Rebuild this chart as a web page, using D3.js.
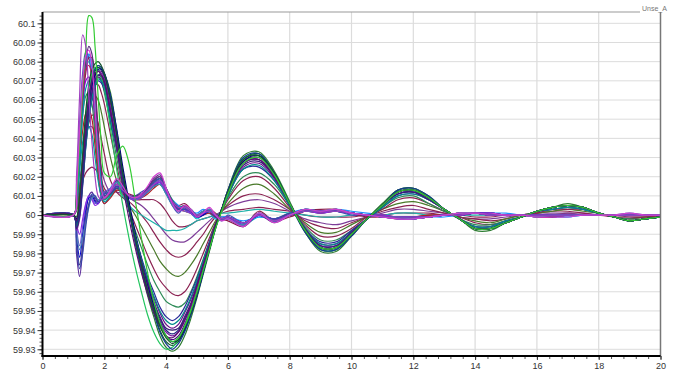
<!DOCTYPE html>
<html><head><meta charset="utf-8">
<script src="https://cdn.jsdelivr.net/npm/d3@7"></script>
<style>body{margin:0;background:#fff}svg{display:block}text{font-family:"Liberation Sans",Arial,sans-serif}</style>
</head><body><svg id="c" width="674" height="374"></svg>
<script>
// Frequency traces: values are deviations from 60 Hz in mHz
const baseFreq = 60;
const time = [0,1.0,1.1,1.2,1.3,1.4,1.5,1.6,1.7,1.8,1.9,2.0,
  2.2,2.4,2.6,2.8,3.0,3.2,3.4,3.6,3.8,4.0,4.2,4.4,4.6,4.8,5.0,5.2,5.4,5.6,5.8,6.0,
  6.5,7.0,7.5,8.0,8.5,9.0,9.5,10.0,10.5,11.0,11.5,12.0,12.5,13.0,13.5,14.0,14.5,15.0,15.5,16.0,16.5,17.0,17.5,18.0,18.5,19.0,19.5,20.0];
const xTickValues = [0,2,4,6,8,10,12,14,16,18,20];
const xTickLabels = ["0","2","4","6","8","10","12","14","16","18","20"];
const yTickValues = [59.93,59.94,59.95,59.96,59.97,59.98,59.99,60,60.01,60.02,60.03,60.04,60.05,60.06,60.07,60.08,60.09,60.1];
const yTickLabels = ["59.93","59.94","59.95","59.96","59.97","59.98","59.99","60","60.01","60.02","60.03","60.04","60.05","60.06","60.07","60.08","60.09","60.1"];

// intermediate traces
const devI1 = [0,0,4,12,18,22,24,25,24,22,18,14, 10,13,12,9,8,8,8,8,6,2,-3,-6,-6,-5,-3,-2,-1,0,1,2, 3,4,3,2,0,-1,-1,-1,0,0,1,1,1,0,0,-1,-1,0,0,0,0,1,0,0,0,0,0,0];
const devI2 = [0,0,4,16,30,40,46,46,42,34,25,18, 12,12,11,9,7,5,2,-2,-6,-10,-13,-14,-14,-12,-9,-6,-3,0,2,4, 7,8,6,2,-2,-4,-5,-3,-1,1,3,3,2,1,-1,-2,-2,-1,0,1,1,1,1,0,0,-1,-1,0];
const devI3 = [0,0,3,14,28,40,48,52,52,48,40,32, 18,12,9,7,4,0,-4,-9,-14,-18,-21,-22,-21,-18,-14,-10,-5,-1,2,5, 10,11,8,3,-3,-6,-7,-4,-1,2,4,5,3,1,-1,-2,-3,-2,0,1,2,2,1,0,-1,-1,-1,0];
const devI4 = [0,0,2,12,26,40,52,60,62,60,54,46, 30,18,10,5,0,-6,-12,-18,-24,-28,-31,-32,-30,-26,-21,-15,-9,-3,2,6, 14,16,11,3,-4,-9,-9,-5,-1,3,6,7,5,2,-1,-3,-4,-2,0,1,2,3,2,1,-1,-2,-1,-1];
const devI5 = [0,0,-2,8,22,38,52,62,68,68,64,58, 42,26,12,3,-5,-13,-21,-28,-34,-38,-41,-42,-40,-35,-28,-20,-12,-4,2,8, 18,20,14,4,-5,-11,-11,-7,-1,3,8,9,6,2,-1,-4,-5,-3,-1,1,3,3,3,1,-1,-2,-1,-1];
const devI6 = [0,0,-3,6,20,38,54,64,70,72,70,64, 48,30,14,2,-8,-17,-26,-34,-40,-45,-47,-48,-46,-40,-32,-23,-14,-5,2,9, 20,22,16,5,-6,-13,-13,-8,-2,4,9,10,6,2,-2,-5,-5,-3,-1,2,3,4,3,1,-1,-2,-2,-1];
const devI7 = [0,0,10,38,62,76,80,72,50,28,14,9, 12,14,10,5,2,0,-2,-4,-6,-8,-8,-8,-7,-5,-3,-2,-1,0,1,1, 2,3,2,1,0,-1,-1,0,0,0,1,1,0,0,0,0,0,0,0,0,0,0,0,0,0,0,0,0];

// early-peak / small-oscillation traces
const devA1 = [0,0,14,44,70,83,86,78,56,30,14,9, 13,19,15,10,9,11,15,20,22,14,6,2,5,3,-1,1,4,0,-3,-2, -6,1,-4,0,3,2,3,1,0,-1,-2,-2,-1,0,1,1,1,0,0,-1,-1,-1,0,0,0,1,0,0];
const devA2 = [0,0,10,36,62,78,84,80,62,38,18,8, 11,16,14,10,8,10,13,17,19,13,7,4,3,1,-2,0,1,-2,-1,-1, -5,-1,-2,1,2,1,2,1,0,-1,-1,-2,-1,0,0,1,1,0,0,0,-1,-1,0,0,0,0,0,0];
const devA3 = [0,0,16,48,74,85,82,70,48,24,10,6, 10,14,12,9,10,12,14,18,18,12,5,1,4,2,0,2,2,-1,-3,0, -4,0,-3,0,3,2,2,0,0,0,-1,-1,-1,0,1,1,0,0,0,0,-1,0,0,0,0,1,0,0];
const devA4 = [0,0,8,32,58,74,82,82,68,45,24,12, 12,15,13,11,10,11,13,16,17,12,7,5,6,3,-1,0,3,1,-2,-3, -6,2,-3,-1,2,3,3,1,-1,-1,-2,-1,0,0,1,1,0,0,0,-1,-1,0,0,0,0,0,0,0];
const devA5 = [0,0,12,40,66,80,84,76,55,30,14,8, 14,18,14,9,8,9,12,15,17,13,8,5,3,2,1,3,1,-1,-1,-1, -3,-1,-2,1,3,1,3,2,1,0,-2,-2,-1,-1,0,1,1,1,0,0,0,-1,0,0,0,0,0,0];
const devA6 = [0,0,9,34,58,70,72,66,48,28,14,9, 12,17,14,10,9,10,12,16,18,13,6,3,4,2,-1,1,2,0,-2,-1, -5,0,-3,0,2,2,2,1,0,-1,-1,-2,-1,0,0,1,1,0,0,0,-1,0,0,0,0,0,0,0];
const devA7 = [0,0,8,30,52,62,64,58,42,24,12,8, 11,15,13,10,9,10,13,17,19,14,8,4,4,2,0,1,2,0,-2,-1, -4,0,-2,0,2,2,2,1,0,-1,-1,-1,-1,0,0,1,0,0,0,0,0,0,0,0,0,0,0,0];
const devA8 = [0,0,6,26,44,53,55,50,36,20,10,6, 9,13,12,9,8,9,11,14,16,12,6,3,2,1,-1,0,1,-1,-2,-1, -4,0,-2,0,2,1,2,1,0,0,-1,-1,0,0,0,1,0,0,0,0,0,0,0,0,0,0,0,0];
const devA9 = [0,0,5,22,38,45,46,42,30,18,10,7, 10,14,13,10,9,10,12,15,16,11,6,4,5,2,0,1,3,0,-2,-2, -5,1,-3,0,3,2,2,1,0,-1,-1,-1,-1,0,1,1,0,0,0,0,-1,0,0,0,0,0,0,0];
const devA10 = [0,0,6,30,60,80,88,84,66,40,20,10, 13,18,14,9,8,10,14,19,21,14,7,3,4,3,0,2,3,0,-2,-2, -6,0,-4,0,3,2,3,1,0,-1,-2,-2,-1,0,1,1,1,0,0,-1,-1,0,0,0,0,0,0,0];
const devA11 = [0,0,11,38,63,76,78,72,52,30,15,9, 12,16,13,9,9,11,14,18,20,13,6,3,5,2,-1,1,3,-1,-2,-2, -5,1,-3,0,2,2,3,1,0,-1,-1,-2,-1,0,1,1,0,0,0,-1,-1,0,0,0,0,0,0,0];
const devA12 = [0,0,7,28,52,66,70,68,54,34,18,10, 13,17,14,10,8,10,13,16,18,12,6,4,4,2,0,2,2,0,-2,-2, -4,0,-3,0,3,2,2,1,0,-1,-1,-1,-1,0,0,1,1,0,0,0,0,0,0,0,0,0,0,0];

// traces that dip first
const devC1 = [0,0,-20,-32,-18,0,10,12,8,6,9,12, 13,16,13,10,9,10,12,15,17,12,6,3,3,1,-1,1,2,-1,-2,-1, -4,0,-2,0,2,2,2,1,0,-1,-1,-1,-1,0,0,1,0,0,0,0,0,0,0,0,0,0,0,0];
const devC2 = [0,0,-12,-22,-10,3,9,10,7,6,9,11, 12,15,13,10,9,11,13,16,18,13,7,4,4,2,-1,0,2,0,-2,-2, -5,0,-3,0,2,2,2,1,0,-1,-1,-2,-1,0,0,1,1,0,0,0,0,0,0,0,0,0,0,0];
const devC3 = [0,0,-8,-16,-6,5,10,9,6,7,10,12, 14,17,13,9,8,9,12,16,18,13,7,3,2,1,-1,1,3,0,-1,-2, -5,1,-3,0,3,2,3,1,0,-1,-2,-2,-1,0,1,1,0,0,0,-1,0,0,0,0,0,0,0,0];
const devC4 = [0,0,-14,-26,-16,-2,6,10,9,7,8,10, 11,14,12,10,10,11,14,18,20,14,7,3,4,2,0,2,2,-1,-2,-1, -4,0,-2,1,2,2,2,1,0,-1,-1,-1,-1,0,0,1,0,0,0,0,-1,0,0,0,0,0,0,0];
const devC5 = [0,0,-5,-10,-2,6,10,8,5,6,9,11, 12,15,12,9,8,10,13,16,17,12,6,2,3,1,-1,1,2,0,-2,-1, -5,0,-2,0,2,1,2,1,0,0,-1,-1,-1,0,0,1,0,0,0,0,0,0,0,0,0,0,0,0];
const devC6 = [0,0,-10,-18,-12,-4,4,9,10,8,9,11, 13,17,14,10,9,10,12,15,16,11,5,2,4,3,0,2,3,0,-2,-2, -5,1,-3,0,2,2,3,1,0,-1,-1,-2,-1,0,1,1,0,0,0,-1,0,0,0,0,0,0,0,0];
const devC7 = [0,0,-16,-28,-20,-6,5,11,10,7,8,11, 12,15,12,10,9,10,13,17,19,13,6,3,3,2,-1,1,2,0,-2,-1, -4,0,-2,0,2,2,2,1,0,-1,-1,-1,-1,0,0,1,0,0,0,0,0,0,0,0,0,0,0,0];

// large-oscillation traces
const devB1 = [0,0,-3,3,18,36,50,60,67,70,69,65, 49,34,17,3,-11,-22,-32,-40,-48,-53,-55,-53,-48,-41,-33,-24,-14,-5,3,10, 24,25,18,5,-7,-14,-14,-8,-2,4,10,11,8,3,-2,-6,-6,-3,-1,2,3,4,3,1,-1,-3,-2,-1];
const devB2 = [0,0,-5,2,19,38,53,63,69,72,71,68, 52,36,18,3,-12,-23,-34,-43,-51,-57,-59,-57,-51,-44,-35,-25,-15,-5,3,11, 25,27,19,5,-7,-15,-15,-9,-2,5,11,12,8,3,-2,-6,-6,-4,-1,2,4,5,4,1,-1,-3,-2,-1];
const devB3 = [0,0,-4,5,23,43,57,66,71,73,72,69, 55,38,19,3,-12,-25,-36,-46,-54,-60,-62,-60,-54,-47,-37,-27,-16,-6,3,11, 27,29,20,6,-8,-16,-16,-10,-2,5,11,12,9,3,-2,-7,-7,-4,-1,2,4,5,4,1,-1,-3,-2,-1];
const devB4 = [0,0,-4,4,22,42,57,67,73,75,75,72, 58,40,20,3,-13,-26,-38,-48,-57,-63,-65,-63,-57,-49,-39,-28,-17,-6,3,12, 28,30,21,6,-8,-17,-17,-10,-2,5,12,13,9,3,-2,-7,-7,-4,-1,2,4,5,4,1,-1,-3,-2,-1];
const devB5 = [0,0,-6,1,18,40,57,69,75,77,76,73, 61,42,21,3,-14,-27,-40,-50,-60,-66,-68,-66,-60,-51,-41,-29,-18,-6,3,13, 29,32,22,6,-8,-18,-18,-10,-2,5,13,14,9,3,-2,-7,-7,-4,-1,2,4,5,4,1,-1,-3,-2,-1];
const devB6 = [0,0,-3,6,26,47,62,71,76,78,77,74, 64,44,22,3,-14,-29,-42,-53,-63,-69,-71,-69,-63,-54,-43,-31,-19,-7,3,13, 31,33,23,7,-9,-19,-19,-11,-2,6,13,14,10,3,-2,-8,-8,-4,-1,2,4,6,4,1,-1,-3,-2,-1];
const devB7 = [0,0,-2,8,30,52,66,74,77,76,72,66, 45,24,5,-12,-27,-40,-52,-61,-67,-70,-69,-65,-58,-49,-39,-28,-17,-6,3,12, 29,31,22,6,-8,-18,-18,-10,-2,5,12,13,9,3,-2,-7,-7,-4,-1,2,4,5,4,1,-1,-3,-2,-1];
const devB8 = [0,0,-8,-2,15,36,53,65,72,75,74,71, 57,39,20,3,-13,-25,-37,-47,-55,-61,-63,-61,-55,-48,-38,-27,-16,-6,3,12, 27,29,20,6,-8,-16,-16,-10,-2,5,12,13,9,3,-2,-7,-7,-4,-1,2,4,5,4,1,-1,-3,-2,-1];
const devB9 = [0,0,-2,7,26,46,60,68,73,76,76,74, 62,45,25,7,-9,-23,-36,-47,-56,-63,-66,-65,-60,-52,-42,-30,-18,-7,3,12, 28,31,21,6,-8,-17,-17,-10,-2,5,12,13,9,3,-2,-7,-7,-4,-1,2,4,5,4,1,-1,-3,-2,-1];
const devB10 = [0,0,-6,0,16,35,50,61,68,71,70,67, 50,35,17,3,-11,-23,-33,-42,-50,-55,-57,-55,-50,-43,-34,-24,-15,-5,3,10, 24,26,18,5,-7,-15,-15,-9,-2,4,10,11,8,3,-2,-6,-6,-3,-1,2,3,4,3,1,-1,-3,-2,-1];
const devB11 = [0,0,-7,-1,17,38,54,64,70,73,73,70, 54,37,19,3,-12,-24,-35,-45,-53,-59,-60,-59,-53,-46,-36,-26,-16,-6,3,11, 26,28,20,6,-7,-16,-16,-9,-2,5,11,12,8,3,-2,-7,-7,-4,-1,2,4,5,4,1,-1,-3,-2,-1];
const devB12 = [0,0,-4,3,21,43,59,70,76,78,77,74, 62,43,21,3,-14,-28,-41,-51,-61,-67,-70,-67,-61,-52,-42,-30,-18,-6,3,13, 30,32,22,6,-9,-18,-18,-11,-2,5,13,14,10,3,-2,-7,-7,-4,-1,2,4,5,4,1,-1,-3,-2,-1];
const devB13 = [0,0,-3,6,25,46,61,70,74,75,73,69, 54,35,15,-2,-17,-30,-41,-51,-58,-63,-64,-61,-55,-47,-37,-26,-16,-5,3,12, 27,29,20,6,-8,-17,-17,-10,-2,5,12,13,9,3,-2,-7,-7,-4,-1,2,4,5,4,1,-1,-3,-2,-1];
const devB14 = [0,0,-1,10,32,54,68,76,79,80,78,74, 60,42,22,4,-12,-26,-39,-49,-58,-64,-67,-65,-59,-51,-41,-29,-18,-6,3,12, 29,31,22,6,-8,-17,-17,-10,-2,5,12,13,9,3,-2,-7,-7,-4,-1,2,4,5,4,1,-1,-3,-2,-1];

// individual outliers
const devG1 = [0,0,10,38,66,86,104,103,88,62,38,22, 20,31,36,27,8,-12,-30,-45,-56,-63,-66,-64,-58,-50,-40,-29,-18,-7,2,11, 27,30,21,6,-8,-17,-17,-10,-2,5,12,13,9,3,-2,-7,-7,-4,-1,2,4,5,4,1,-1,-3,-2,-1];
const devP1 = [0,0,20,62,94,88,62,38,20,10,8,9, 12,16,13,10,9,10,13,16,18,13,7,4,4,2,0,1,2,0,-2,-1, -4,0,-3,0,2,2,2,1,0,-1,-1,-1,-1,0,0,1,0,0,0,0,0,0,0,0,0,0,0,0];

const traces = [devI1,devI2,devI3,devI4,devI5,devI6,devI7,
  devA2,devA3,devA4,devA5,devA6,devA7,devA8,devA9,devA10,devA11,devA12,
  devC1,devC2,devC3,devC4,devC5,devC6,devC7,
  devB1,devB2,devB3,devB4,devB5,devB6,devB7,devB8,devB9,devB10,devB11,devB12,devB13,devB14,
  devG1,devP1,devA1];
const colors = ["#8b2252","#7d3c98","#8b2252","#4a7a2a","#8b2252","#2e8b57","#20b2aa",
  "#00bcd4","#3f51b5","#8b1a4a","#1e90ff","#9400d3","#2e8b57","#b22222","#00a0a0","#5a2d82","#c2185b","#0097a7",
  "#5a2a9a","#0000cd","#6a5acd","#483d8b","#8a2be2","#4682b4","#3949ab",
  "#2b2b9a","#6a0d8a","#1a237e","#4b0082","#0d5c2e","#2e7d32","#22c55e","#7b1fa2","#00007a","#008b8b","#3a1f7a","#123b8f","#5b0f6e","#14532d",
  "#33cc33","#a040c0","#d040d0"];

const svg = d3.select("#c");
const L = 42.5, R = 660.5, T = 12, B = 356;
const x = d3.scaleLinear().domain([0,20]).range([L,R]);
const y = d3.scaleLinear().domain([59.9265,60.1059]).range([B,T]);

// grid
const g = svg.append("g");
g.selectAll(".hg").data(yTickValues).join("line")
  .attr("x1",L).attr("x2",R).attr("y1",d=>y(d)).attr("y2",d=>y(d))
  .attr("stroke","#dcdcdc").attr("stroke-width",1);
g.selectAll(".vg").data(xTickValues.filter(v=>v>0&&v<20)).join("line")
  .attr("x1",d=>x(d)).attr("x2",d=>x(d)).attr("y1",T).attr("y2",B)
  .attr("stroke","#dcdcdc").attr("stroke-width",1.2);

// traces
svg.append("defs").append("clipPath").attr("id","clip").append("rect")
  .attr("x",L).attr("y",T).attr("width",R-L).attr("height",B-T);
const line = d3.line().x((d,i)=>x(time[i])).y(d=>y(baseFreq + d/1000)).curve(d3.curveCatmullRom.alpha(0.5));
svg.append("g").attr("clip-path","url(#clip)").selectAll("path").data(traces).join("path")
  .attr("d",line).attr("fill","none").attr("stroke",(d,i)=>colors[i]).attr("stroke-width",1.2);

// frame
svg.append("line").attr("x1",L).attr("x2",640).attr("y1",T).attr("y2",T).attr("stroke","#999");
svg.append("line").attr("x1",R).attr("x2",R).attr("y1",T).attr("y2",B).attr("stroke","#777").attr("stroke-width",1.5);

// axes
const yMinor = d3.range(59.928,60.1059,0.002);
svg.append("g").attr("transform",`translate(${L},0)`)
  .call(d3.axisLeft(y).tickValues(yMinor).tickSize(3).tickFormat(""))
  .call(a=>a.select(".domain").remove())
  .call(a=>a.selectAll("line").attr("stroke","#555"));
svg.append("g").attr("transform",`translate(${L},0)`)
  .call(d3.axisLeft(y).tickValues(yTickValues).tickSize(5).tickPadding(2).tickFormat((d,i)=>yTickLabels[i]))
  .call(a=>a.select(".domain").remove())
  .call(a=>a.selectAll("line").attr("stroke","#333"))
  .call(a=>a.selectAll("text").attr("font-size","9px").attr("fill","#333").attr("font-family","Liberation Sans, Arial, sans-serif"));
const xMinor = d3.range(0,20.01,0.4);
svg.append("g").attr("transform",`translate(0,${B})`)
  .call(d3.axisBottom(x).tickValues(xMinor).tickSize(3).tickFormat(""))
  .call(a=>a.select(".domain").remove())
  .call(a=>a.selectAll("line").attr("stroke","#555"));
svg.append("g").attr("transform",`translate(0,${B})`)
  .call(d3.axisBottom(x).tickValues(xTickValues).tickSize(4).tickPadding(3).tickFormat((d,i)=>xTickLabels[i]))
  .call(a=>a.select(".domain").remove())
  .call(a=>a.selectAll("line").attr("stroke","#333"))
  .call(a=>a.selectAll("text").attr("font-size","9px").attr("fill","#333").attr("font-family","Liberation Sans, Arial, sans-serif"));
svg.append("line").attr("x1",L).attr("x2",L).attr("y1",T).attr("y2",B+1).attr("stroke","#000").attr("stroke-width",2);
svg.append("line").attr("x1",L-1).attr("x2",R).attr("y1",B).attr("y2",B).attr("stroke","#000").attr("stroke-width",2);

// corner label
svg.append("text").attr("x",642).attr("y",11).attr("font-size","7px").attr("fill","#777").text("Unse_A");
</script></body></html>
